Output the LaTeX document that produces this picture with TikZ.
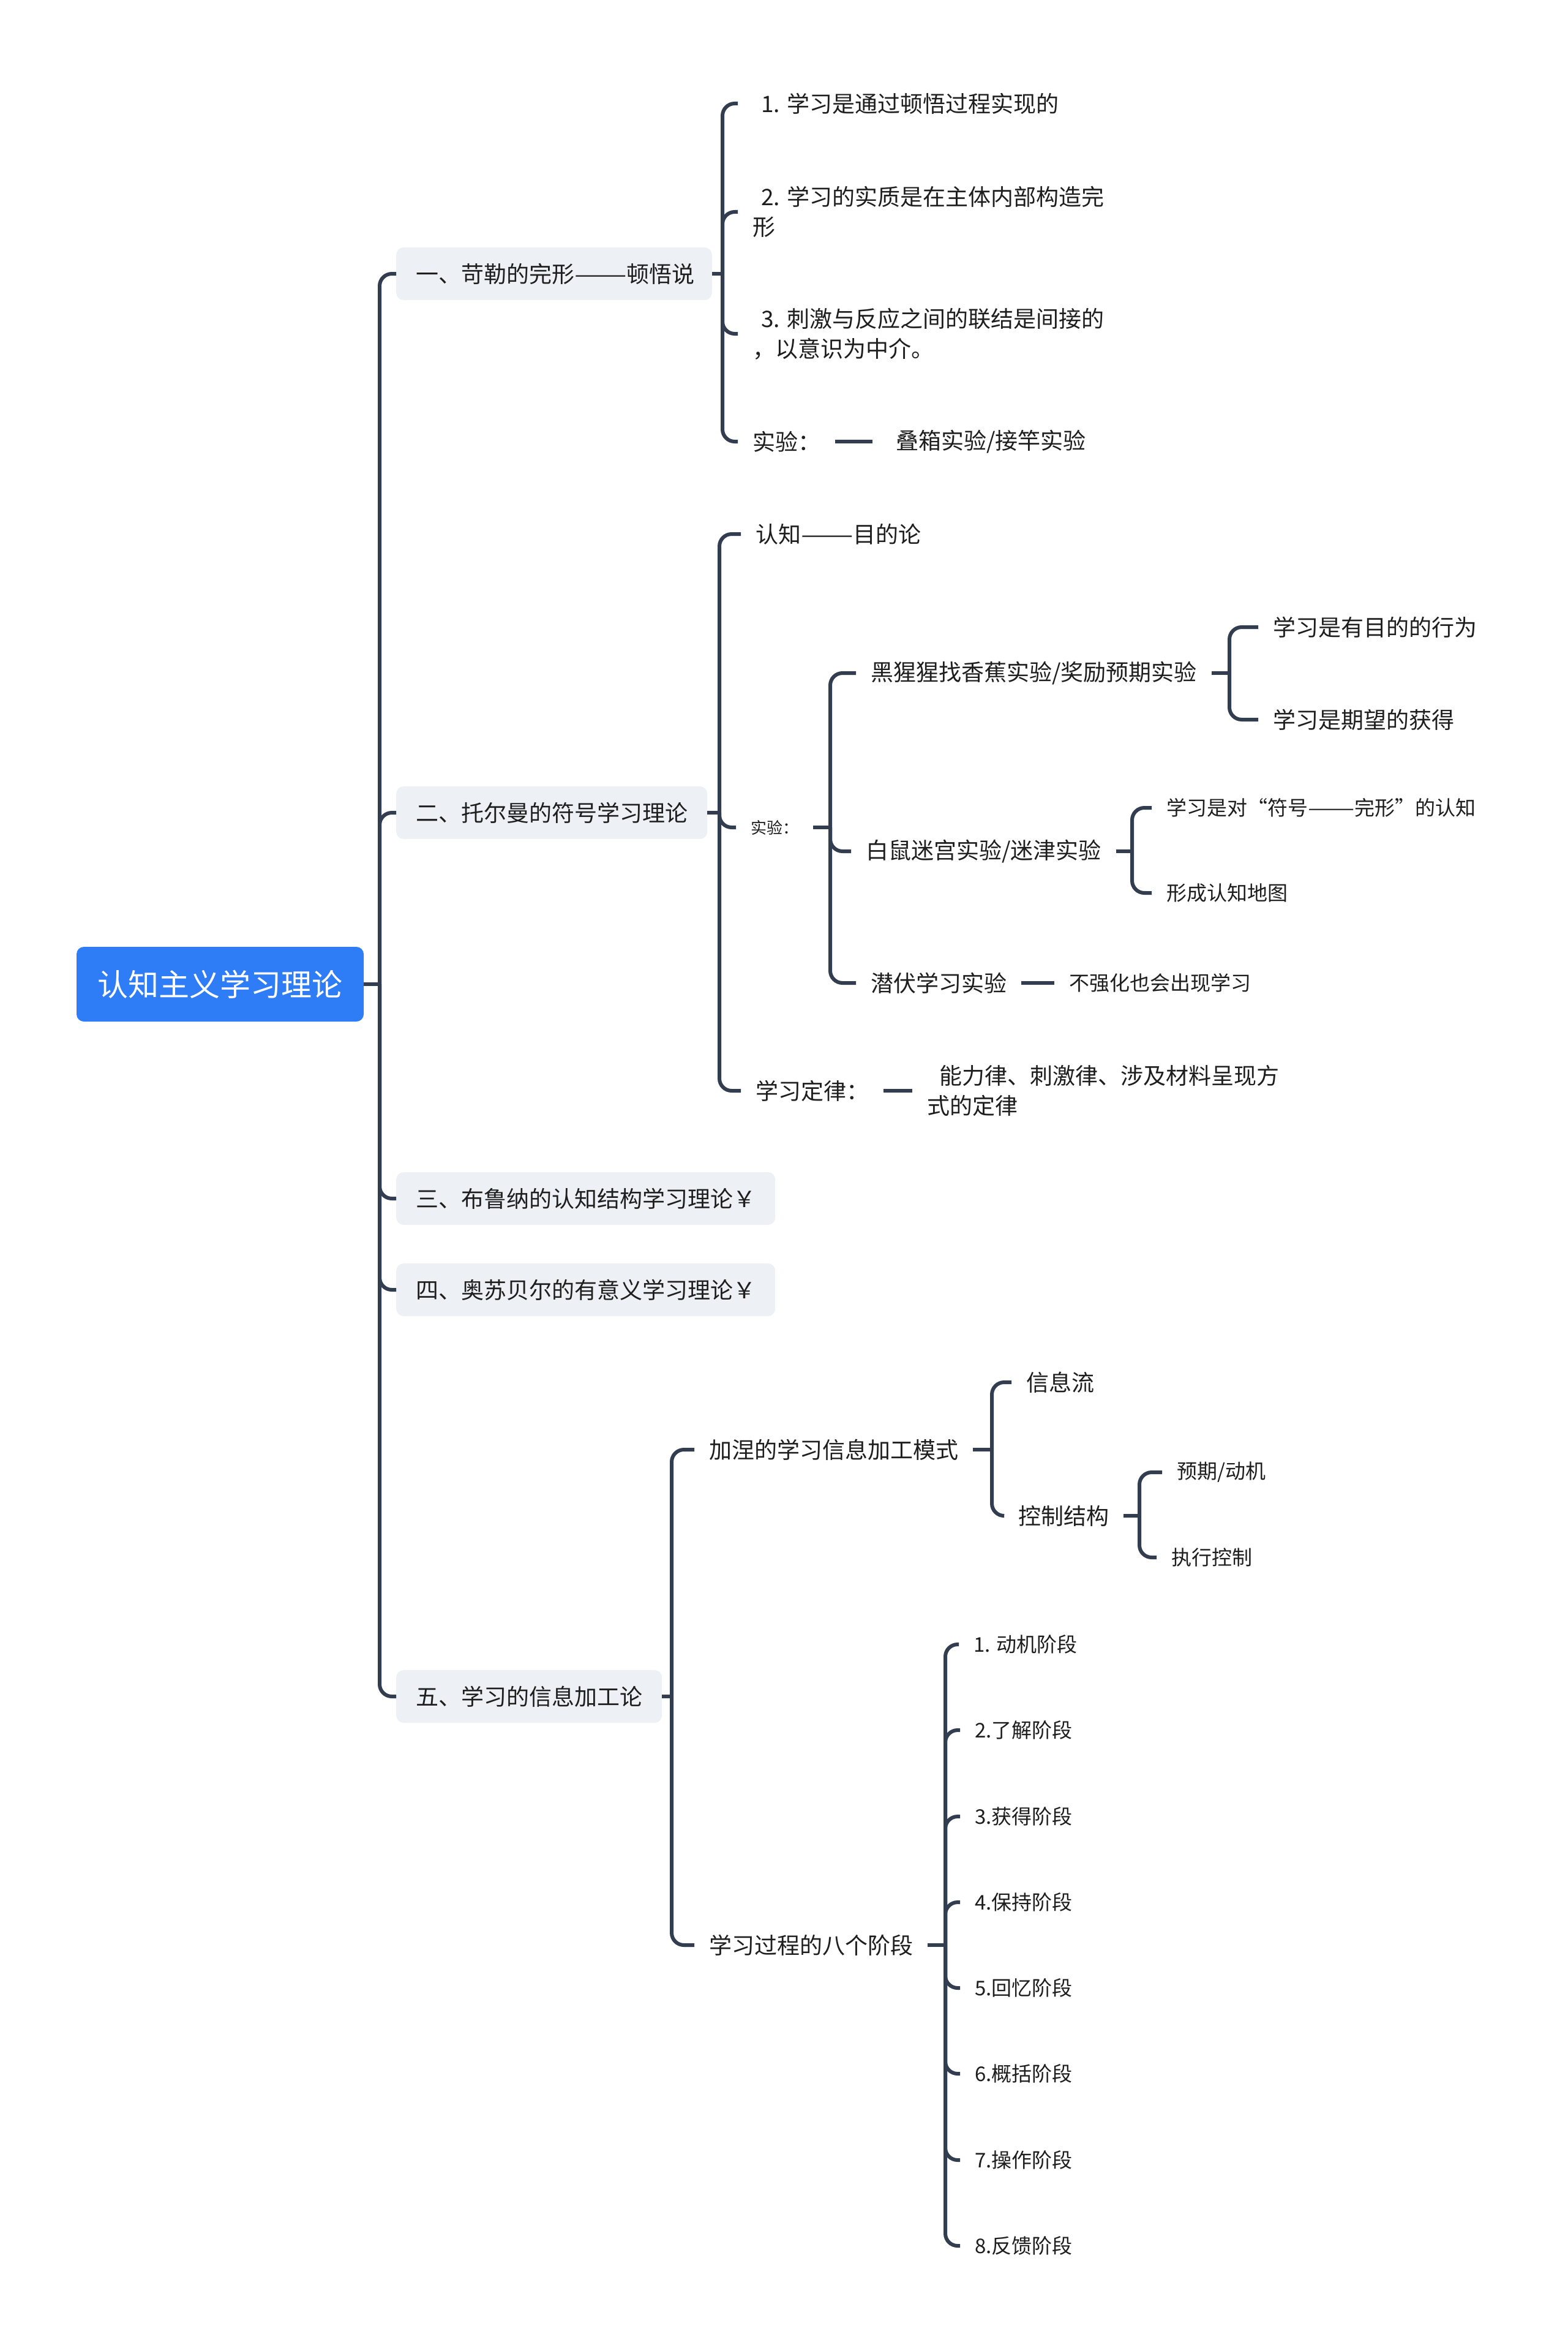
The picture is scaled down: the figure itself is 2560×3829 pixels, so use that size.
\documentclass[tikz,border=0pt]{standalone}
\usepackage{fontspec}
\usepackage{graphicx}
\setmainfont{Noto Sans CJK SC}
\definecolor{linec}{RGB}{50,62,79}
\definecolor{boxc}{RGB}{237,241,245}
\definecolor{rootc}{RGB}{47,125,246}
\definecolor{txt}{RGB}{30,30,30}
\newcommand{\ddsh}{\scalebox{1.38}[1]{——}}
\begin{document}
\begin{tikzpicture}[x=1pt,y=-1pt,
  conn/.style={line width=6pt, draw=linec, rounded corners=20pt},
  tbig/.style={font=\fontsize{37}{49}\selectfont},
  tsmall/.style={font=\fontsize{33}{44}\selectfont},
  leaf/.style={anchor=west, inner xsep=24pt, inner ysep=4pt, align=left, text=txt, tbig},
  leafs/.style={leaf, tsmall},
  br/.style={anchor=west, fill=boxc, rounded corners=12pt, inner xsep=32pt, minimum height=86pt, text=txt, tbig},
]
\fill[white] (0,0) rectangle (2560,3829);
\useasboundingbox (0,0) rectangle (2560,3829);

% root
\node[fill=rootc, rounded corners=12pt, text=white, font=\fontsize{50}{60}\selectfont,
  minimum width=469pt, minimum height=122pt] (root) at (359.5,1607) {认知主义学习理论};

% level 1
\node[br, inner xsep=28pt] (b1) at (647,447) {\hspace*{4pt}一、苛勒的完形\ddsh 顿悟说};
\node[br] (b2) at (647,1327) {二、托尔曼的符号学习理论};
\node[br] (b3) at (647,1957) {三、布鲁纳的认知结构学习理论￥};
\node[br] (b4) at (647,2106) {四、奥苏贝尔的有意义学习理论￥};
\node[br] (b5) at (647,2770) {五、学习的信息加工论};

% branch 1
\node[leaf] (c11) at (1205,169) {\hspace*{14pt}1. 学习是通过顿悟过程实现的};
\node[leaf] (c12) at (1205,346) {\hspace*{14pt}2. 学习的实质是在主体内部构造完\\形};
\node[leaf] (c13) at (1205,545) {\hspace*{14pt}3. 刺激与反应之间的联结是间接的\\，以意识为中介。};
\node[leaf] (c14) at (1205,721) {实验：};
\node[leaf, inner xsep=38pt] (c141) at (1425,721) {叠箱实验/接竿实验};

% branch 2
\node[leaf] (c21) at (1210,872) {认知\ddsh 目的论};
\node[leaf, font=\fontsize{26}{32}\selectfont] (c22) at (1202,1351) {实验：};
\node[leaf] (c23) at (1210,1781) {学习定律：};
\node[leaf] (c231) at (1490,1781) {\hspace*{20pt}能力律、刺激律、涉及材料呈现方\\式的定律};

\node[leaf] (d1) at (1398,1099) {黑猩猩找香蕉实验/奖励预期实验};
\node[leaf] (d2) at (1390,1390) {白鼠迷宫实验/迷津实验};
\node[leaf] (d3) at (1398,1605) {潜伏学习实验};
\node[leafs] (d31) at (1722,1605) {不强化也会出现学习};

\node[leaf] (e1) at (2055,1024) {学习是有目的的行为};
\node[leaf] (e2) at (2055,1175) {学习是期望的获得};
\node[leafs] (e3) at (1881,1319) {学习是对“符号\ddsh 完形”的认知};
\node[leafs] (e4) at (1881,1458) {形成认知地图};

% branch 5
\node[leaf] (f1) at (1134,2367) {加涅的学习信息加工模式};
\node[leaf] (f2) at (1134,3176) {学习过程的八个阶段};
\node[leaf] (g1) at (1652,2257) {信息流};
\node[leaf] (g2) at (1639,2475) {控制结构};
\node[leafs] (h1) at (1898,2404) {预期/动机};
\node[leafs] (h2) at (1889,2543) {执行控制};

\node[leafs] (s1) at (1566,2685) {1. 动机阶段};
\node[leafs] (s2) at (1568,2825) {2.了解阶段};
\node[leafs] (s3) at (1568,2966) {3.获得阶段};
\node[leafs] (s4) at (1568,3106) {4.保持阶段};
\node[leafs] (s5) at (1568,3246) {5.回忆阶段};
\node[leafs] (s6) at (1568,3386) {6.概括阶段};
\node[leafs] (s7) at (1568,3527) {7.操作阶段};
\node[leafs] (s8) at (1568,3667) {8.反馈阶段};

% junction coordinates
\coordinate (jt) at (620,1607);
\coordinate (j1) at (1180,447);
\coordinate (j2) at (1175,1327);
\coordinate (j22) at (1356,1351);
\coordinate (jd1) at (2008,1099);
\coordinate (jd2) at (1849,1390);
\coordinate (j5) at (1097,2770);
\coordinate (jf1) at (1620,2367);
\coordinate (jg2) at (1861,2475);
\coordinate (jf2) at (1544,3176);

% connectors
\draw[conn] (root.east) -- (jt);
\foreach \n in {b1,b2,b3,b4,b5} \draw[conn] (jt) |- (\n.west);

\draw[conn] (b1.east) -- (j1);
\foreach \n in {c11,c12,c13,c14} \draw[conn] (j1) |- (\n.west);
\draw[conn] (c14.east) -- (c141.west);

\draw[conn] (b2.east) -- (j2);
\foreach \n in {c21,c22,c23} \draw[conn] (j2) |- (\n.west);
\draw[conn] (c23.east) -- (c231.west);

\draw[conn] (c22.east) -- (j22);
\foreach \n in {d1,d2,d3} \draw[conn] (j22) |- (\n.west);
\draw[conn] (d3.east) -- (d31.west);

\draw[conn] (d1.east) -- (jd1);
\foreach \n in {e1,e2} \draw[conn] (jd1) |- (\n.west);
\draw[conn] (d2.east) -- (jd2);
\foreach \n in {e3,e4} \draw[conn] (jd2) |- (\n.west);

\draw[conn] (b5.east) -- (j5);
\foreach \n in {f1,f2} \draw[conn] (j5) |- (\n.west);
\draw[conn] (f1.east) -- (jf1);
\foreach \n in {g1,g2} \draw[conn] (jf1) |- (\n.west);
\draw[conn] (g2.east) -- (jg2);
\foreach \n in {h1,h2} \draw[conn] (jg2) |- (\n.west);
\draw[conn] (f2.east) -- (jf2);
\foreach \n in {s1,s2,s3,s4,s5,s6,s7,s8} \draw[conn] (jf2) |- (\n.west);
\end{tikzpicture}
\end{document}
